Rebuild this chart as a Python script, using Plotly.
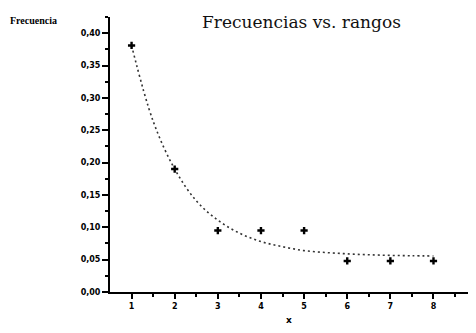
import plotly.graph_objects as go

# observed data (rank vs frequency)
rangos = [1, 2, 3, 4, 5, 6, 7, 8]
frecuencias = [0.381, 0.190, 0.095, 0.095, 0.095, 0.048, 0.048, 0.048]

# fitted decay curve
curva_x = [1, 1.5, 2, 2.5, 3, 3.5, 4, 4.5, 5, 5.5, 6, 6.5, 7, 7.5, 8]
curva_y = [0.381, 0.264, 0.190, 0.141, 0.111, 0.091, 0.078, 0.070, 0.064,
           0.061, 0.059, 0.0575, 0.0566, 0.0560, 0.0557]

y_ticks = [0.0, 0.05, 0.10, 0.15, 0.20, 0.25, 0.30, 0.35, 0.40]
x_ticks = [1, 2, 3, 4, 5, 6, 7, 8, 9]

fig = go.Figure()
fig.add_trace(go.Scatter(
    x=curva_x, y=curva_y, mode="lines",
    line=dict(color="#333333", width=1.6, dash="2px,3px", shape="spline"),
    showlegend=False, hoverinfo="skip"))
fig.add_trace(go.Scatter(
    x=rangos, y=frecuencias, mode="markers",
    marker=dict(symbol="cross", size=6, color="black"),
    showlegend=False))

tickfont = dict(family="DejaVu Sans", size=8, color="black", weight="bold")

fig.update_layout(
    width=460, height=317,
    margin=dict(l=102, r=0, t=9, b=33),
    paper_bgcolor="white", plot_bgcolor="white",
    separators=",.",
    xaxis=dict(range=[0.5, 8.8], tickvals=x_ticks, ticks="outside", ticklen=5,
               tickwidth=1.5, tickcolor="black", showline=True, linecolor="black",
               linewidth=2, showgrid=False, zeroline=False, tickfont=tickfont,
               minor=dict(tickvals=[1.5, 2.5, 3.5, 4.5, 5.5, 6.5, 7.5, 8.5],
                          ticks="outside", ticklen=3, tickcolor="black", tickwidth=1.5)),
    yaxis=dict(range=[0, 0.425], tickvals=y_ticks, tickformat=".2f", ticks="outside",
               ticklen=6, tickwidth=1.5, tickcolor="black", showline=True,
               linecolor="black", linewidth=2, showgrid=False, zeroline=False,
               tickfont=tickfont,
               minor=dict(dtick=0.05, tick0=0.025, ticks="outside", ticklen=3,
                          tickcolor="black", tickwidth=1.5)),
    annotations=[
        dict(text="Frecuencias vs. rangos", xref="paper", yref="paper",
             x=0.536, y=1.0, xanchor="center", yanchor="middle", showarrow=False,
             yshift=-5,
             font=dict(family="DejaVu Serif", size=17, color="#111111")),
        dict(text="Frecuencia", xref="paper", yref="paper", x=0, y=1,
             xanchor="left", yanchor="middle", xshift=-102, yshift=-3, showarrow=False,
             font=dict(family="Liberation Serif", size=10, color="black", weight="bold")),
        dict(text="x", xref="paper", yref="paper", x=0.5, y=0,
             xanchor="center", yanchor="middle", yshift=-28, showarrow=False,
             font=dict(family="DejaVu Sans", size=9, color="black", weight="bold")),
    ],
)

fig.write_html("out.html")
